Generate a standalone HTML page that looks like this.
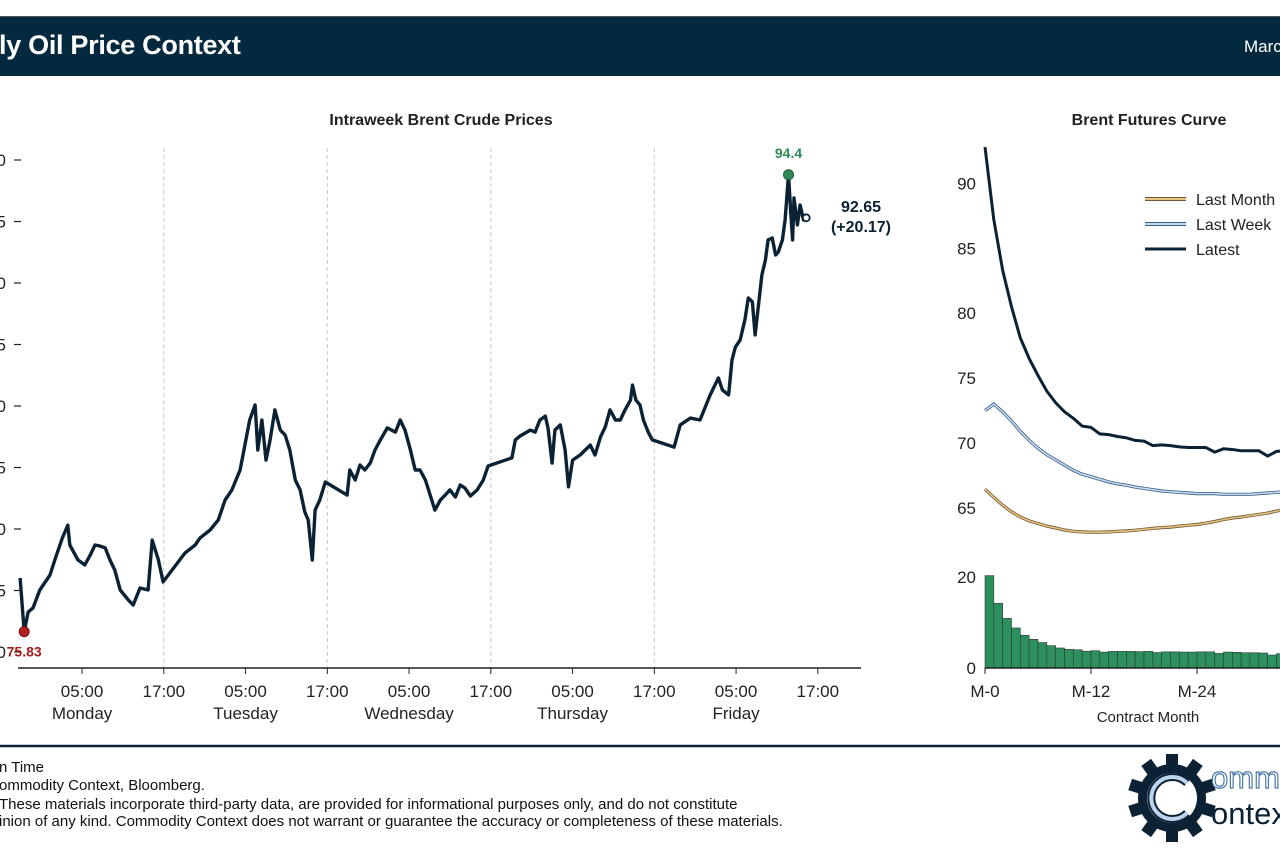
<!DOCTYPE html>
<html><head><meta charset="utf-8">
<style>
html,body{margin:0;padding:0;background:#fff;width:1280px;height:853px;overflow:hidden;font-family:"Liberation Sans",Arial,sans-serif;}
#root{position:relative;width:1280px;height:853px;overflow:hidden;}
.hdr{position:absolute;left:0;top:16px;width:1280px;height:59px;background:#03293f;border-top:1px solid #555;}
.title{position:absolute;left:-1px;top:30px;color:#fff;font-weight:bold;font-size:27px;white-space:nowrap;letter-spacing:-0.3px;}
.date{position:absolute;left:1244px;top:37px;color:#fff;font-size:17px;white-space:nowrap;}
.foot{position:absolute;left:-1px;font-size:15px;color:#111;white-space:nowrap;}
svg text{font-family:"Liberation Sans",Arial,sans-serif;}
</style></head><body>
<div id="root">
<div class="hdr"></div>
<div class="title">ly Oil Price Context</div>
<div class="date">Marc</div>

<svg id="chart" width="1280" height="853" style="position:absolute;left:0;top:0"></svg>

<div class="foot" style="top:759px">n Time</div>
<div class="foot" style="top:777px">ommodity Context, Bloomberg.</div>
<div class="foot" style="top:796px">These materials incorporate third-party data, are provided for informational purposes only, and do not constitute</div>
<div class="foot" style="top:813px">inion of any kind. Commodity Context does not warrant or guarantee the accuracy or completeness of these materials.</div>
</div>
<script>
// ---- Intraweek data (hours since Monday 00:00, price) ----
const weekTimes = [-4.1,-3.5,-2.9,-2.2,-1.2,0.3,1.0,2.1,2.9,3.2,4.4,5.4,6.2,6.9,7.6,8.4,9.1,9.8,10.6,11.8,12.5,13.5,14.7,15.3,16.2,16.9,
 20.1,21.6,22.3,23.8,25.0,26.0,27.0,28.2,28.9,29.6,30.4,30.8,31.4,32.0,32.6,33.3,34.1,34.8,35.5,36.3,37.0,37.7,38.2,38.8,39.2,39.9,40.7,
 43.9,44.3,45.1,45.8,46.5,47.3,48.0,48.8,49.8,51.0,51.7,52.4,53.2,53.9,54.6,55.4,56.1,56.8,57.6,58.3,59.0,59.8,60.5,61.2,62.0,63.0,63.9,64.6,
 68.1,68.6,69.3,70.8,71.5,72.2,73.0,73.4,74.0,74.4,75.2,75.9,76.4,77.0,78.1,79.6,80.3,81.1,81.8,82.5,83.3,84.0,84.7,85.5,85.8,86.3,86.9,87.4,88.1,88.7,
 91.9,92.8,94.3,95.7,97.2,98.4,99.0,99.9,100.4,100.9,101.6,102.3,102.8,103.4,103.8,104.3,104.8,105.3,105.7,106.3,106.8,107.2,107.8,108.2,108.7,109.0,109.3,109.5,110.0,110.4,110.9,111.3];
const weekPrices = [78.01,75.83,76.63,76.79,77.52,78.13,78.74,79.63,80.16,79.35,78.74,78.54,78.94,79.35,79.31,79.23,78.74,78.33,77.52,77.11,76.91,77.60,77.52,79.55,78.74,77.85,
 79.02,79.35,79.63,79.96,80.37,81.18,81.59,82.40,83.41,84.43,85.04,83.21,84.43,82.80,83.62,84.84,84.02,83.82,83.21,81.99,81.59,80.69,80.37,78.74,80.77,81.18,81.91,
 81.38,82.40,81.99,82.60,82.40,82.68,83.21,83.62,84.11,83.94,84.43,84.02,83.21,82.40,82.40,81.99,81.38,80.77,81.18,81.38,81.59,81.30,81.79,81.67,81.34,81.59,81.99,82.56,
 82.89,83.62,83.78,84.02,83.94,84.43,84.59,84.11,82.68,84.02,84.23,83.21,81.71,82.80,83.01,83.41,83.01,83.74,84.15,84.84,84.43,84.43,84.84,85.24,85.85,85.24,85.04,84.43,83.94,83.62,
 83.33,84.23,84.51,84.43,85.45,86.14,85.65,85.45,86.87,87.40,87.68,88.50,89.39,89.23,87.89,89.11,90.33,90.93,91.75,91.83,91.14,91.26,91.75,92.56,94.40,92.97,91.75,93.46,92.36,93.17,92.56,92.65];
const weekYTicks = [75,77.5,80,82.5,85,87.5,90,92.5,95];
const weekYTickLabels = ["75.0","77.5","80.0","82.5","85.0","87.5","90.0","92.5","95.0"];
const weekXTicks = [5,17,29,41,53,65,77,89,101,113];
const weekXTickLabels = ["05:00","17:00","05:00","17:00","05:00","17:00","05:00","17:00","05:00","17:00"];
const dayNames = ["Monday","Tuesday","Wednesday","Thursday","Friday"];
const weekChange = "+20.17";

// ---- Futures curve data (contract month index) ----
const curveMonths = [0,1,2,3,4,5,6,7,8,9,10,11,12,13,14,15,16,17,18,19,20,21,22,23,24,25,26,27,28,29,30,31,32,33,34];
const latestCurve = [92.8,87.2,83.3,80.5,78.1,76.5,75.2,74.0,73.1,72.4,71.9,71.3,71.2,70.7,70.65,70.5,70.4,70.2,70.15,69.8,69.85,69.8,69.7,69.65,69.65,69.65,69.3,69.55,69.5,69.4,69.4,69.4,69.0,69.35,69.4];
const lastWeekCurve = [72.5,73.0,72.4,71.7,70.9,70.2,69.6,69.1,68.7,68.3,67.9,67.6,67.4,67.2,67.0,66.85,66.75,66.6,66.5,66.4,66.3,66.25,66.2,66.15,66.1,66.1,66.1,66.05,66.05,66.05,66.05,66.1,66.15,66.2,66.25];
const lastMonthCurve = [66.45,65.8,65.2,64.7,64.3,64.0,63.8,63.6,63.45,63.3,63.2,63.15,63.13,63.13,63.15,63.2,63.23,63.28,63.35,63.42,63.48,63.52,63.6,63.66,63.72,63.82,63.95,64.1,64.22,64.3,64.4,64.5,64.6,64.75,64.9];
const curveYTicks = [65,70,75,80,85,90];
const barYTicks = [0,20];
const curveXTicks = [0,12,24,36];
const curveXTickLabels = ["M-0","M-12","M-24","M-36"];

const svg = document.getElementById('chart');
const NS = 'http://www.w3.org/2000/svg';
function mk(tag, attrs, parent){ const e=document.createElementNS(NS,tag); for(const k in attrs) e.setAttribute(k,attrs[k]); (parent||svg).appendChild(e); return e; }

// ===== Left chart =====
const wx = t => 48 + t*6.8125;
const wy = p => 652 - (p-75)*24.6;
const g1 = mk('g',{});


let t1 = mk('text',{x:441,y:125,'text-anchor':'middle','font-size':16,'font-weight':'bold',fill:'#222'},g1);
t1.textContent='Intraweek Brent Crude Prices';


[17,41,65,89].forEach(h=>{
  const l=mk('line',{x1:wx(h),x2:wx(h),y1:148,y2:668,stroke:'#c8c8c8','stroke-dasharray':'4,3','stroke-width':1},g1);
  
  
});
weekYTicks.forEach((v,i)=>{
  const y=wy(v);
  const tk=mk('line',{x1:14,x2:21,y1:y,y2:y,stroke:'#222','stroke-width':1.2},g1);
  
  
  const tx=mk('text',{x:6,y:y+6,'text-anchor':'end','font-size':17,fill:'#222'},g1);
  tx.textContent=weekYTickLabels[i];
  
  
});
const ax=mk('line',{x1:18,x2:861,y1:668,y2:668,stroke:'#222','stroke-width':1.5},g1);


weekXTicks.forEach((h,i)=>{
  const x=wx(h);
  const tk=mk('line',{x1:x,x2:x,y1:668,y2:674,stroke:'#222','stroke-width':1},g1);
  
  
  const tx=mk('text',{x:x,y:697,'text-anchor':'middle','font-size':17,fill:'#222'},g1);
  tx.textContent=weekXTickLabels[i];
  
  
  if(i%2===0){
    const d=mk('text',{x:x,y:719,'text-anchor':'middle','font-size':17,fill:'#222'},g1);
    d.textContent=dayNames[i/2];
    
    
  }
});
let pd='';
weekTimes.forEach((t,i)=>{ pd += (i?'L':'M')+wx(t).toFixed(1)+','+wy(weekPrices[i]).toFixed(1); });
const pl=mk('path',{d:pd,fill:'none',stroke:'#0b2235','stroke-width':3.4,'stroke-linejoin':'round'},g1);


let iMin=0,iMax=0;
weekPrices.forEach((p,i)=>{ if(p<weekPrices[iMin]) iMin=i; if(p>weekPrices[iMax]) iMax=i; });
const mn=mk('circle',{cx:wx(weekTimes[iMin]),cy:wy(weekPrices[iMin]),r:5,fill:'#b22222',stroke:'#6d1010','stroke-width':1},g1);


const mnt=mk('text',{x:wx(weekTimes[iMin]),y:wy(weekPrices[iMin])+25,'text-anchor':'middle','font-size':14,'font-weight':'bold',fill:'#a61c1c'},g1);
mnt.textContent=weekPrices[iMin].toFixed(2);


const mx=mk('circle',{cx:wx(weekTimes[iMax]),cy:wy(weekPrices[iMax]),r:5,fill:'#2e8b57',stroke:'#1c5a37','stroke-width':1},g1);


const mxt=mk('text',{x:wx(weekTimes[iMax]),y:wy(weekPrices[iMax])-17,'text-anchor':'middle','font-size':14,'font-weight':'bold',fill:'#2e8b57'},g1);
mxt.textContent=String(weekPrices[iMax]);


const li=weekTimes.length-1;
const lc=mk('circle',{cx:wx(weekTimes[li]),cy:wy(weekPrices[li]),r:3.5,fill:'#fff',stroke:'#0b2235','stroke-width':1.8},g1);


const l1=mk('text',{x:861,y:212,'text-anchor':'middle','font-size':16,'font-weight':'bold',fill:'#0b2235'},g1);
l1.textContent=weekPrices[li].toFixed(2);


const l2=mk('text',{x:861,y:232,'text-anchor':'middle','font-size':16,'font-weight':'bold',fill:'#0b2235'},g1);
l2.textContent='('+weekChange+')';



// ===== Right chart =====
const cx = m => 985 + m*8.833;
const cy = p => 443 - (p-70)*12.98;
const by = v => 668 - v*4.55;
const g2 = mk('g',{});


let t2=mk('text',{x:1149,y:125,'text-anchor':'middle','font-size':16,'font-weight':'bold',fill:'#222'},g2);
t2.textContent='Brent Futures Curve';


curveYTicks.forEach(v=>{
  const tx=mk('text',{x:976,y:cy(v)+6,'text-anchor':'end','font-size':17,fill:'#222'},g2);
  tx.textContent=String(v);
  
  
});
barYTicks.forEach(v=>{
  const tx=mk('text',{x:976,y:by(v)+6,'text-anchor':'end','font-size':17,fill:'#222'},g2);
  tx.textContent=String(v);
  
  
});
curveMonths.forEach((m,i)=>{
  const v=latestCurve[i]-lastWeekCurve[i];
  const r=mk('rect',{x:cx(m),y:by(v),width:8.833,height:668-by(v),fill:'#2e8f5e',stroke:'#2a3a33','stroke-width':0.6},g2);
  
  
});
const ax2=mk('line',{x1:985,x2:1280,y1:668,y2:668,stroke:'#222','stroke-width':1.5},g2);


curveXTicks.forEach((m,i)=>{
  const tk=mk('line',{x1:cx(m),x2:cx(m),y1:668,y2:674,stroke:'#222','stroke-width':1},g2);
  
  
  const tx=mk('text',{x:cx(m),y:697,'text-anchor':'middle','font-size':17,fill:'#222'},g2);
  tx.textContent=curveXTickLabels[i];
  
  
});
const xt=mk('text',{x:1148,y:722,'text-anchor':'middle','font-size':15,fill:'#222'},g2);
xt.textContent='Contract Month';


function curvePath(arr){ let d=''; curveMonths.forEach((m,i)=>{ d+=(i?'L':'M')+cx(m).toFixed(1)+','+cy(arr[i]).toFixed(1); }); return d; }
const lmO=mk('path',{d:curvePath(lastMonthCurve),fill:'none',stroke:'#6b5a3a','stroke-width':3.2},g2);


const lm=mk('path',{d:curvePath(lastMonthCurve),fill:'none',stroke:'#e9c27e','stroke-width':1.6},g2);


const lwO=mk('path',{d:curvePath(lastWeekCurve),fill:'none',stroke:'#3d5a80','stroke-width':3.2},g2);


const lw=mk('path',{d:curvePath(lastWeekCurve),fill:'none',stroke:'#c4dcf4','stroke-width':1.6},g2);


const lt=mk('path',{d:curvePath(latestCurve),fill:'none',stroke:'#0b2235','stroke-width':3},g2);


const lg=mk('g',{},g2);


[['Last Month','#e9c27e','#6b5a3a'],['Last Week','#c4dcf4','#3d5a80'],['Latest','#0b2235',null]].forEach((e,i)=>{
  const y=199+i*25;
  const row=mk('g',{},lg);
  
  
  if(e[2]){ mk('line',{x1:1145,x2:1186,y1:y,y2:y,stroke:e[2],'stroke-width':4},row); mk('line',{x1:1145,x2:1186,y1:y,y2:y,stroke:e[1],'stroke-width':2},row); }
  else mk('line',{x1:1145,x2:1186,y1:y,y2:y,stroke:e[1],'stroke-width':3},row);
  const tx=mk('text',{x:1196,y:y+6,'font-size':16,fill:'#222'},row);
  tx.textContent=e[0];
});

const fr=mk('line',{x1:0,x2:1280,y1:746,y2:746,stroke:'#0b2235','stroke-width':2.5});



// logo
const lgo=mk('g',{});


const gcx=1172, gcy=798;
for(let k=0;k<10;k++){
  const a=k*36;
  mk('rect',{x:gcx-6,y:gcy-44,width:12,height:14,fill:'#0b2235',transform:`rotate(${a} ${gcx} ${gcy})`},lgo);
}
mk('circle',{cx:gcx,cy:gcy,r:34,fill:'#0b2235'},lgo);
mk('circle',{cx:gcx,cy:gcy,r:25,fill:'#fff'},lgo);
mk('path',{d:`M${gcx+15},${gcy-15} A21,21 0 1 0 ${gcx+15},${gcy+15}`,fill:'none',stroke:'#0b2235','stroke-width':8},lgo);
mk('path',{d:`M${gcx+15},${gcy-15} A21,21 0 1 0 ${gcx+15},${gcy+15}`,fill:'none',stroke:'#bcd4ee','stroke-width':4},lgo);
const w1=mk('text',{x:1211,y:788,'font-size':31,fill:'#fff',stroke:'#4a78a8','stroke-width':1.2},lgo);
w1.textContent='ommo';
const w2=mk('text',{x:1211,y:824,'font-size':31,fill:'#0b2235'},lgo);
w2.textContent='ontext';
</script>
</body></html>
